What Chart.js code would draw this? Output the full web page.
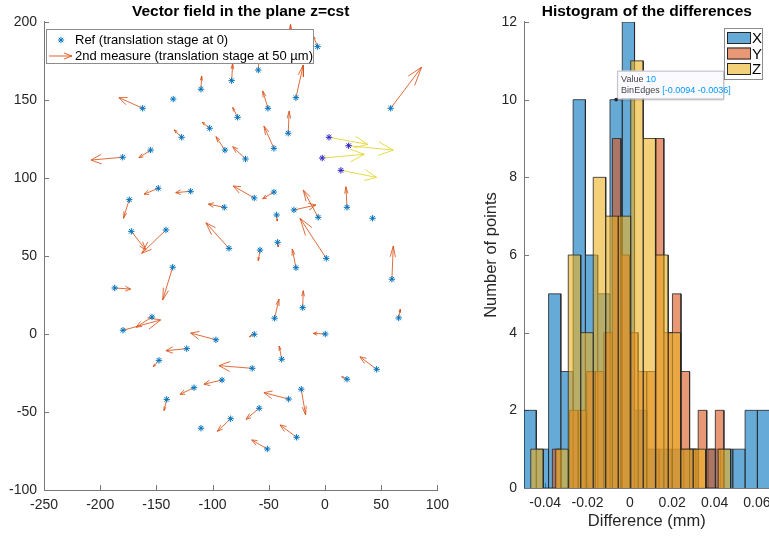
<!DOCTYPE html>
<html><head><meta charset="utf-8">
<script src="https://cdn.jsdelivr.net/npm/chart.js@4/dist/chart.umd.min.js"></script>
<style>
html,body{margin:0;padding:0;background:#fff;}
#wrap{position:relative;width:769px;height:537px;overflow:hidden;background:#fff;}
</style></head><body>
<div id="wrap">
<div style="position:absolute;left:0;top:0;width:456px;height:537px;"><canvas id="c1"></canvas></div>
<div style="position:absolute;left:450px;top:0;width:328px;height:537px;"><canvas id="c2"></canvas></div>
</div>
<script>
// ---------- text ----------
const leftTitle = 'Vector field in the plane z=cst';
const rightTitle = 'Histogram of the differences';
const leftLegendLabels = ['Ref (translation stage at 0)', '2nd measure (translation stage at 50 µm)'];
const histLabels = ['X', 'Y', 'Z'];
const histXTitle = 'Difference (mm)';
const histYTitle = 'Number of points';

// ---------- vector field ticks ----------
const vfXTicks = [-250, -200, -150, -100, -50, 0, 50, 100];
const vfYTicks = [-100, -50, 0, 50, 100, 150, 200];

// ---------- reference points (translation stage at 0) and displacement drawn ----------
const refX = [-83.0,-110.3,-135.0,-162.2,-77.7,-102.6,-127.5,-155.1,-89.0,-70.7,-180.0,-6.5,-59.3,-31.1,-25.8,-50.7,-32.7,-45.4,58.5,
  -148.3,-119.5,-174.1,-89.6,-62.9,-172.3,-141.5,-85.4,-135.5,-187.1,-153.9,-179.7,-97.0,-45.4,19.6,42.4,-27.6,-6.0,-43.0,-42.1,-57.8,
  1.2,-25.8,59.6,-19.8,-44.8,65.6,-62.9,0.3,-123.0,-147.7,-91.6,-116.5,-140.8,-83.9,-110.3,-64.7,-58.5,-38.5,46.0,19.6,-21.1,-32.3,-25.2,-51.3];
const refY = [162.4,156.9,150.6,144.7,138.9,131.9,126.1,117.9,117.9,112.2,113.3,184.2,169.2,181.0,151.5,144.7,128.7,119.0,144.7,
  93.4,91.5,86.1,81.2,87.2,65.8,66.7,54.9,42.8,29.5,10.9,2.4,-3.7,91.0,81.2,74.2,79.5,74.8,76.3,58.8,53.8,
  48.5,42.5,35.1,16.9,10.1,10.3,-0.2,0.0,-9.4,-16.9,-29.5,-34.4,-41.9,-54.3,-60.4,-22.0,-47.6,-16.2,-22.6,-29.0,-35.4,-41.7,-66.2,-73.7];
const dispX = [0.9,0.6,0,-21.1,-4.4,-6.6,-6.6,-10.4,-8.0,-11.4,-28.2,-3.9,1.0,0.5,6.5,-4.7,0.9,-8.9,27.5,
  -12.7,-13.3,-5.3,-14.2,-18.7,13.0,-21.6,-20.5,-8.9,14.2,-14.2,33.5,-22.5,-10.0,-0.9,0,19.6,-13.3,0.6,0.6,-1.5,
  -23.4,-3.3,1.2,0.5,3.9,1.4,-4.4,-10.7,-18.5,-5.1,-16.1,-12.5,-2.4,-11.9,0,-29.6,-11.8,-2.2,-14.9,-4.7,3.9,-22.0,-14.8,-13.9];
const dispY = [11.1,8.5,0,6.8,6.4,3.8,4.7,-4.9,8.6,7.9,-1.8,6.8,12.0,17.5,20.9,11.1,14.2,14.3,26.3,
  -3.8,-0.9,-11.9,2.1,7.7,-12.0,-15.0,16.4,-21.0,-0.7,-6.6,6.6,4.3,-4.3,13.2,0,3.2,17.5,-3.9,-3.0,-6.8,
  25.7,12.0,21.3,10.9,12.3,5.5,-1.5,0.4,-1.3,-4.1,-2.7,-4.3,-7.2,-8.1,0,1.7,-7.1,8.5,8.0,1.6,-16.5,4.1,7.9,5.8];

// ---------- the group of points with large shift ----------
const outX = [3.6, 21.1, -2.4, 14.2];
const outY = [126.1, 120.7, 112.8, 104.9];
const outDX = [34.4, 39.7, 37.4, 31.8];
const outDY = [-4.5, -2.8, 2.4, -4.5];

// ---------- histogram data ----------
const histXTicks = [-0.04, -0.02, 0, 0.02, 0.04, 0.06];
const histXTickLabels = ['-0.04', '-0.02', '0', '0.02', '0.04', '0.06'];
const histYTicks = [0, 2, 4, 6, 8, 10, 12];
const xFirstEdge = -0.05, xBinWidth = 0.0058;
const countsX = [2,1,5,3,10,6,5,10,12,2,1,1,1,1,0,1,1,1,2,2];
const yFirstEdge = -0.0366, yBinWidth = 0.00405;
const countsY = [1,0,2,2,3,3,4,9,6,4,3,3,9,4,5,3,1,2,1,2];
const zFirstEdge = -0.0468, zBinWidth = 0.0059;
const countsZ = [1,0,1,6,4,8,7,7,11,9,6,4,1,1,0,1];
const tipValue = 10;
const tipEdges = [-0.0094, -0.0036];

// ---------- style ----------
const FONT = '"Liberation Sans", Arial, Helvetica, sans-serif';
const AXIS = 'rgb(120,120,120)';
const TXT = 'rgb(38,38,38)';
const BLUE = 'rgb(0,114,189)';
const ORANGE = 'rgb(217,83,25)';
const YELLOWL = 'rgb(228,214,50)';
const DARK = 'rgb(45,35,200)';

function arrowPoints(xs, ys, us, vs) {
  const pts = [];
  const a = 0.33, b = 0.33;
  for (let i = 0; i < xs.length; i++) {
    const x = xs[i], y = ys[i], u = us[i], v = vs[i];
    if (u === 0 && v === 0) continue;
    const tx = x + u, ty = y + v;
    pts.push({x: x, y: y}, {x: tx, y: ty}, {x: tx, y: null});
    pts.push({x: tx - a * (u + b * v), y: ty - a * (v - b * u)}, {x: tx, y: ty},
             {x: tx - a * (u - b * v), y: ty - a * (v + b * u)}, {x: tx, y: null});
  }
  return pts;
}
function histPoints(edge0, width, counts) {
  const pts = [];
  counts.forEach((c, i) => {
    const a = edge0 + i * width, b = a + width;
    pts.push({x: a, y: 0}, {x: a, y: c}, {x: b, y: c}, {x: b, y: 0});
  });
  return pts;
}

const inwardTicks = {
  id: 'inwardTicks',
  beforeDatasetsDraw(chart) {
    const ctx = chart.ctx, sx = chart.scales.x, sy = chart.scales.y;
    ctx.save();
    ctx.strokeStyle = AXIS; ctx.lineWidth = 1;
    sx.ticks.forEach(t => {
      const p = Math.round(sx.getPixelForValue(t.value)) + 0.5;
      ctx.beginPath(); ctx.moveTo(p, sx.top); ctx.lineTo(p, sx.top - 5); ctx.stroke();
    });
    sy.ticks.forEach(t => {
      const p = Math.round(sy.getPixelForValue(t.value)) + 0.5;
      ctx.beginPath(); ctx.moveTo(sy.right, p); ctx.lineTo(sy.right + 5, p); ctx.stroke();
    });
    ctx.restore();
  }
};

function baseScale(min, max, ticks, labels, fontSize) {
  return {
    type: 'linear', min: min, max: max,
    grid: {display: true, drawOnChartArea: false, drawTicks: false},
    border: {display: true, color: AXIS, width: 1},
    afterBuildTicks: s => { s.ticks = ticks.map(v => ({value: v})); },
    ticks: {
      font: {family: FONT, size: fontSize}, color: TXT, padding: 7,
      callback: (v, i) => labels ? labels[i] : String(ticks[i])
    }
  };
}

// ---------------- left chart ----------------
const leftLegend = {
  id: 'leftLegend',
  afterDraw(chart) {
    const ctx = chart.ctx;
    ctx.save();
    const bx = 46, by = 29, bw = 267, bh = 34;
    ctx.fillStyle = '#fff'; ctx.fillRect(bx, by, bw, bh);
    ctx.strokeStyle = 'rgb(140,140,140)'; ctx.lineWidth = 1;
    ctx.strokeRect(bx + 0.5, by + 0.5, bw, bh);
    ctx.strokeStyle = BLUE; ctx.fillStyle = 'rgba(0,114,189,0.3)';
    Chart.helpers.drawPoint(ctx, {pointStyle: 'star', radius: 3.2, borderWidth: 1, rotation: 0}, 61, 40);
    ctx.strokeStyle = ORANGE; ctx.lineWidth = 0.9;
    ctx.beginPath(); ctx.moveTo(49, 56); ctx.lineTo(72, 56);
    ctx.moveTo(64, 53); ctx.lineTo(72, 56); ctx.lineTo(64, 59); ctx.stroke();
    ctx.fillStyle = '#000'; ctx.font = '13px ' + FONT; ctx.textBaseline = 'middle';
    ctx.fillText(leftLegendLabels[0], 75, 40);
    ctx.fillText(leftLegendLabels[1], 75, 56);
    ctx.restore();
  }
};

const xsL = baseScale(vfXTicks[0], vfXTicks[vfXTicks.length - 1], vfXTicks, null, 14);
xsL.afterFit = s => { s.height = 47; };
const ysL = baseScale(vfYTicks[0], vfYTicks[vfYTicks.length - 1], vfYTicks, null, 14);
ysL.afterFit = s => { s.width = 44; };

new Chart(document.getElementById('c1'), {
  type: 'line',
  data: {
    datasets: [
      {label: leftLegendLabels[0], data: refX.map((x, i) => ({x: x, y: refY[i]})), showLine: false,
       pointStyle: 'star', pointRadius: 3.2, pointBorderWidth: 1, pointBorderColor: BLUE, pointBackgroundColor: 'rgba(0,114,189,0.3)'},
      {label: 'shift', data: outX.map((x, i) => ({x: x, y: outY[i]})), showLine: false,
       pointStyle: 'star', pointRadius: 3.2, pointBorderWidth: 1, pointBorderColor: DARK, pointBackgroundColor: 'rgba(45,35,200,0.3)'},
      {label: leftLegendLabels[1], data: arrowPoints(refX, refY, dispX, dispY), borderColor: ORANGE, borderWidth: 0.85,
       pointRadius: 0, spanGaps: false, fill: false, tension: 0},
      {label: 'shift arrows', data: arrowPoints(outX, outY, outDX, outDY), borderColor: YELLOWL, borderWidth: 0.9,
       pointRadius: 0, spanGaps: false, fill: false, tension: 0}
    ]
  },
  options: {
    responsive: true, maintainAspectRatio: false, animation: false,
    layout: {padding: {left: 0, right: 0, top: 0, bottom: 0}},
    scales: {x: xsL, y: ysL},
    plugins: {
      legend: {display: false}, tooltip: {enabled: false},
      title: {display: true, text: leftTitle, fullSize: false, color: '#000',
              font: {family: FONT, size: 15.5, weight: 'bold'}, padding: {top: 2, bottom: 1.4}}
    }
  },
  plugins: [inwardTicks, leftLegend]
});

// ---------------- right chart ----------------
const histColors = ['rgba(0,114,189,0.6)', 'rgba(217,83,25,0.6)', 'rgba(237,177,32,0.6)'];
const rightDecor = {
  id: 'rightDecor',
  afterDraw(chart) {
    const ctx = chart.ctx, sx = chart.scales.x, sy = chart.scales.y;
    ctx.save();
    // legend (inside top-right)
    const lx = 274, ly = 28, lw = 38, lh = 51;
    ctx.fillStyle = '#fff'; ctx.fillRect(lx, ly, lw, lh);
    ctx.strokeStyle = 'rgb(140,140,140)'; ctx.lineWidth = 1; ctx.strokeRect(lx + 0.5, ly + 0.5, lw, lh);
    ctx.font = '15px ' + FONT; ctx.textBaseline = 'middle';
    histLabels.forEach((lab, i) => {
      const yy = ly + 4 + i * 15.5;
      ctx.fillStyle = histColors[i]; ctx.fillRect(lx + 3, yy, 24, 12);
      ctx.strokeStyle = 'rgb(38,38,38)'; ctx.strokeRect(lx + 3.5, yy + 0.5, 23, 11);
      ctx.fillStyle = '#000'; ctx.fillText(lab, lx + 28, yy + 7);
    });
    // data tip
    const ax = sx.getPixelForValue((tipEdges[0] + tipEdges[1]) / 2);
    const ay = sy.getPixelForValue(tipValue);
    const bx = ax + 1, by = ay - 29, bw = 106, bh = 28;
    ctx.shadowColor = 'rgba(0,0,0,0.25)'; ctx.shadowBlur = 2; ctx.shadowOffsetX = 1; ctx.shadowOffsetY = 1;
    ctx.fillStyle = 'rgb(250,250,255)'; ctx.fillRect(bx, by, bw, bh);
    ctx.shadowColor = 'transparent';
    ctx.strokeStyle = 'rgb(190,190,200)'; ctx.strokeRect(bx + 0.5, by + 0.5, bw, bh);
    ctx.fillStyle = 'rgb(40,40,40)';
    ctx.beginPath(); ctx.arc(ax, ay, 1.8, 0, Math.PI * 2); ctx.fill();
    ctx.font = '9px ' + FONT; ctx.textBaseline = 'middle';
    const t1 = 'Value ';
    ctx.fillStyle = 'rgb(70,70,70)'; ctx.fillText(t1, bx + 4, by + 9);
    ctx.fillStyle = 'rgb(0,150,255)';
    ctx.fillText(String(tipValue), bx + 4 + ctx.measureText(t1).width, by + 9);
    const t2 = 'BinEdges ';
    ctx.fillStyle = 'rgb(70,70,70)'; ctx.fillText(t2, bx + 4, by + 20);
    ctx.fillStyle = 'rgb(0,150,255)';
    ctx.fillText('[' + tipEdges[0] + ' ' + tipEdges[1] + ']', bx + 4 + ctx.measureText(t2).width, by + 20);
    ctx.restore();
  }
};

const xsR = baseScale(-0.05, 0.066, histXTicks, histXTickLabels, 14);
xsR.afterFit = s => { s.height = 47; };
xsR.title = {display: true, text: histXTitle, color: TXT, font: {family: FONT, size: 16.5}, padding: {top: 4, bottom: 4}};
const ysR = baseScale(0, 12, histYTicks, null, 14);
ysR.afterFit = s => { s.width = 46; };
ysR.title = {display: true, text: histYTitle, color: TXT, font: {family: FONT, size: 16.5}, padding: {top: 4, bottom: 4}};

function histDataset(label, edge0, w, counts, color, order) {
  return {label: label, data: histPoints(edge0, w, counts), order: order,
          borderColor: 'rgb(38,38,38)', borderWidth: 0.8, backgroundColor: color,
          fill: 'origin', pointRadius: 0, tension: 0};
}

new Chart(document.getElementById('c2'), {
  type: 'line',
  data: {
    datasets: [
      histDataset(histLabels[0], xFirstEdge, xBinWidth, countsX, histColors[0], 3),
      histDataset(histLabels[1], yFirstEdge, yBinWidth, countsY, histColors[1], 2),
      histDataset(histLabels[2], zFirstEdge, zBinWidth, countsZ, histColors[2], 1)
    ]
  },
  options: {
    responsive: true, maintainAspectRatio: false, animation: false,
    layout: {padding: {left: 28, right: 1, top: 0, bottom: 2}},
    scales: {x: xsR, y: ysR},
    plugins: {
      legend: {display: false}, tooltip: {enabled: false},
      title: {display: true, text: rightTitle, fullSize: false, color: '#000',
              font: {family: FONT, size: 15.5, weight: 'bold'}, padding: {top: 2, bottom: 1.4}}
    }
  },
  plugins: [inwardTicks, rightDecor]
});
</script>
</body></html>
